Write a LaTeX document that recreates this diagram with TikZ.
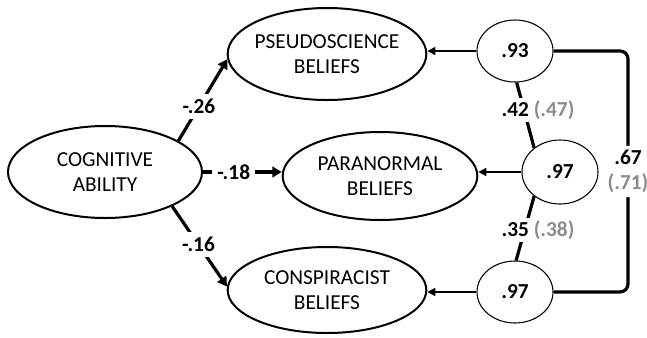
\documentclass[tikz,border=0pt]{standalone}
\usepackage{fontspec}
\setmainfont{Carlito}
\usetikzlibrary{arrows.meta,shapes.geometric}
\definecolor{pgray}{RGB}{140,140,140}
\begin{document}
\begin{tikzpicture}[x=0.75pt,y=-0.75pt,
  every node/.style={font=\fontsize{16}{19}\selectfont},
  latent/.style={draw, ellipse, line width=1.5pt, inner sep=0pt, inner xsep=-3pt, align=center},
  resid/.style={draw, ellipse, line width=0.8pt, inner sep=0pt, font=\fontsize{16}{19}\selectfont\bfseries},
  patharrow/.style={line width=2.4pt, -{Triangle[length=7pt,width=8pt]}},
  thinarrow/.style={line width=1.2pt, -{Triangle[length=6pt,width=6pt]}},
  corr/.style={line width=2.4pt},
  lbl/.style={fill=white, inner sep=4pt, font=\fontsize{16}{19}\selectfont\bfseries},
  corrlbl/.style={fill=white, inner sep=2pt, font=\fontsize{16}{19}\selectfont\bfseries},
]
\useasboundingbox (0,0) rectangle (647,337);
% latent variables
\node[latent, minimum width=145.5pt, minimum height=69pt] (cog) at (105,172) {COGNITIVE\\ABILITY};
\node[latent, minimum width=149pt, minimum height=69pt] (pseudo) at (327,54) {PSEUDOSCIENCE\\BELIEFS};
\node[latent, minimum width=146pt, minimum height=66pt] (para) at (380,176) {PARANORMAL\\BELIEFS};
\node[latent, minimum width=149pt, minimum height=64.5pt] (consp) at (327,290) {CONSPIRACIST\\BELIEFS};
% residuals
\node[resid, minimum width=57pt, minimum height=46.5pt] (c1) at (515,51) {.93};
\node[resid, minimum width=57pt, minimum height=48pt] (c2) at (560,172) {.97};
\node[resid, minimum width=57pt, minimum height=46.5pt] (c3) at (515,292) {.97};
% paths
\draw[patharrow] (cog.23) -- node[lbl, pos=0.42] {-.26} (pseudo.183);
\draw[patharrow] (cog.east) -- node[lbl, pos=0.39] {-.18} (cog.east -| para.west);
\draw[patharrow] (cog.-27) -- node[lbl, pos=0.48] {-.16} (consp.178);
% residual arrows
\draw[thinarrow] (c1.west) -- (c1.west -| pseudo.east);
\draw[thinarrow] (c2.west) -- (c2.west -| para.east);
\draw[thinarrow] (c3.west) -- (c3.west -| consp.east);
% correlations
\draw[corr] (c1.-87) -- (c2.137);
\node[corrlbl] (l42) at (538,110) {.42 \textcolor{pgray}{(.47)}};
\draw[corr] (c2.223) -- (c3.88);
\node[corrlbl] (l35) at (538,230) {.35 \textcolor{pgray}{(.38)}};
\coordinate (rt) at (628,0);
\draw[corr, rounded corners=6pt] (c1.east) -- (c1.east -| rt) -- node[lbl, inner sep=3pt, align=center] (l67) {.67\\\textcolor{pgray}{(.71)}} (c3.east -| rt) -- (c3.east);
\end{tikzpicture}
\end{document}
